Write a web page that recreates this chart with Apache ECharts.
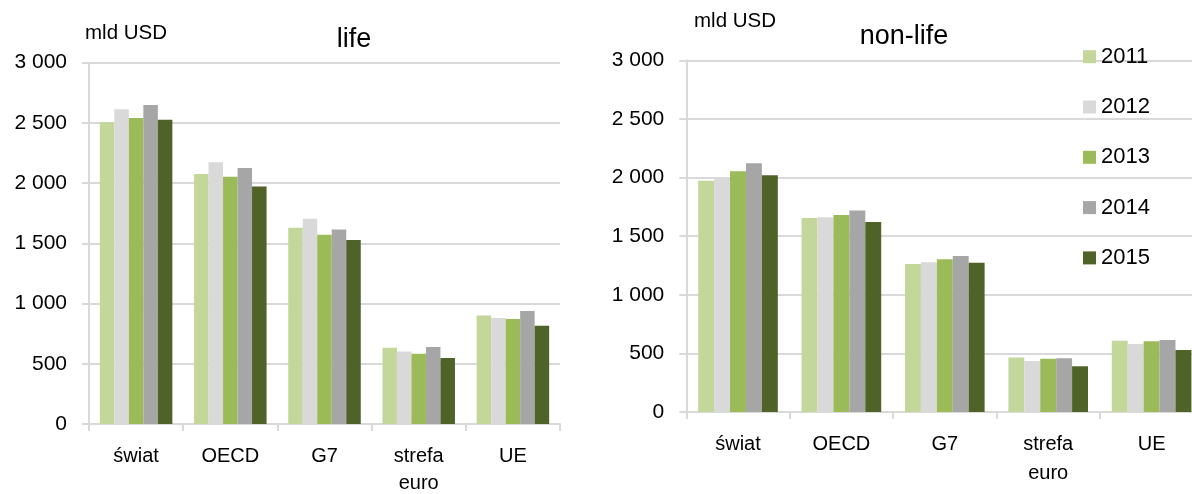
<!DOCTYPE html>
<html>
<head>
<meta charset="utf-8">
<script src="https://cdn.jsdelivr.net/npm/echarts@6/dist/echarts.min.js"></script>
<style>
html,body{margin:0;padding:0;background:#fff;}
#c{width:1192px;height:494px;}
</style>
</head>
<body>
<div id="c"></div>
<script>
var categories = ['świat', 'OECD', 'G7', 'strefa euro', 'UE'];
var years = ['2011', '2012', '2013', '2014', '2015'];
var yTicks = [0, 500, 1000, 1500, 2000, 2500, 3000];

// life (mld USD), per year, across categories
var life2011 = [2505, 2076, 1630, 634, 900];
var life2012 = [2613, 2173, 1705, 601, 880];
var life2013 = [2541, 2054, 1572, 584, 872];
var life2014 = [2649, 2126, 1616, 639, 938];
var life2015 = [2527, 1973, 1528, 548, 816];

// non-life (mld USD)
var nonlife2011 = [1973, 1655, 1263, 464, 608];
var nonlife2012 = [2005, 1661, 1277, 435, 580];
var nonlife2013 = [2053, 1681, 1302, 455, 603];
var nonlife2014 = [2121, 1718, 1331, 458, 614];
var nonlife2015 = [2019, 1621, 1274, 390, 529];

var lifeSeries = [life2011, life2012, life2013, life2014, life2015];
var nonlifeSeries = [nonlife2011, nonlife2012, nonlife2013, nonlife2014, nonlife2015];
var colors = ['#c4d79b', '#d9d9d9', '#9bbb59', '#a6a6a6', '#4f6228'];

var FONT = '"Liberation Sans", Arial, sans-serif';
var GRID = '#d9d9d9';

function fmt(v) { return String(v).replace(/\B(?=(\d{3})+(?!\d))/g, ' '); }

function xAxis(gi, margin, lh) {
  return {
    type: 'category', gridIndex: gi, data: categories,
    axisLine: { show: true, lineStyle: { color: GRID, width: 2 } },
    axisTick: { show: true, length: 7, lineStyle: { color: GRID, width: 2 } },
    axisLabel: {
      margin: margin, fontFamily: FONT, fontSize: 20, color: '#000', lineHeight: lh,
      formatter: function (v) { return v.replace(' ', '\n'); }
    }
  };
}
function yAxis(gi) {
  return {
    type: 'value', gridIndex: gi, min: 0, max: 3000, interval: 500,
    axisLine: { show: true, lineStyle: { color: GRID, width: 2 } },
    axisTick: { show: true, length: 7, lineStyle: { color: GRID, width: 2 } },
    splitLine: { show: true, lineStyle: { color: GRID, width: 2 } },
    axisLabel: { margin: 22, fontFamily: FONT, fontSize: 21, color: '#000', formatter: fmt }
  };
}

var series = [];
for (var i = 0; i < years.length; i++) {
  series.push({
    name: years[i], type: 'bar', xAxisIndex: 0, yAxisIndex: 0,
    data: lifeSeries[i], barGap: '0%', barCategoryGap: '23%',
    itemStyle: { color: colors[i] }, animation: false
  });
}
for (var j = 0; j < years.length; j++) {
  series.push({
    name: years[j], type: 'bar', xAxisIndex: 1, yAxisIndex: 1,
    data: nonlifeSeries[j], barGap: '0%', barCategoryGap: '23%',
    itemStyle: { color: colors[j] }, animation: false
  });
}

var chart = echarts.init(document.getElementById('c'), null, { renderer: 'canvas' });
chart.setOption({
  backgroundColor: '#fff',
  animation: false,
  grid: [
    { left: 89, top: 62.7, width: 471, height: 361.3, containLabel: false, outerBoundsMode: 'none' },
    { left: 686.3, top: 60.3, width: 517, height: 351.7, containLabel: false, outerBoundsMode: 'none' }
  ],
  xAxis: [xAxis(0, 19, 27), xAxis(1, 18, 29)],
  yAxis: [yAxis(0), yAxis(1)],
  legend: {
    data: years, orient: 'vertical', left: 1083, top: 45.7, padding: 0,
    itemWidth: 13, itemHeight: 13, itemGap: 28.3,
    icon: 'rect',
    textStyle: { fontFamily: FONT, fontSize: 22, color: '#000', lineHeight: 21 },
    selectedMode: false
  },
  graphic: [
    { type: 'text', style: { text: 'life', x: 354, y: 40, font: '27px ' + FONT, fill: '#000', textAlign: 'center', textVerticalAlign: 'middle' } },
    { type: 'text', style: { text: 'non-life', x: 904, y: 37, font: '27px ' + FONT, fill: '#000', textAlign: 'center', textVerticalAlign: 'middle' } },
    { type: 'text', style: { text: 'mld USD', x: 85, y: 33, font: '20.5px ' + FONT, fill: '#000', textAlign: 'left', textVerticalAlign: 'middle' } },
    { type: 'text', style: { text: 'mld USD', x: 694, y: 21, font: '20.5px ' + FONT, fill: '#000', textAlign: 'left', textVerticalAlign: 'middle' } }
  ],
  series: series
});
</script>
</body>
</html>
